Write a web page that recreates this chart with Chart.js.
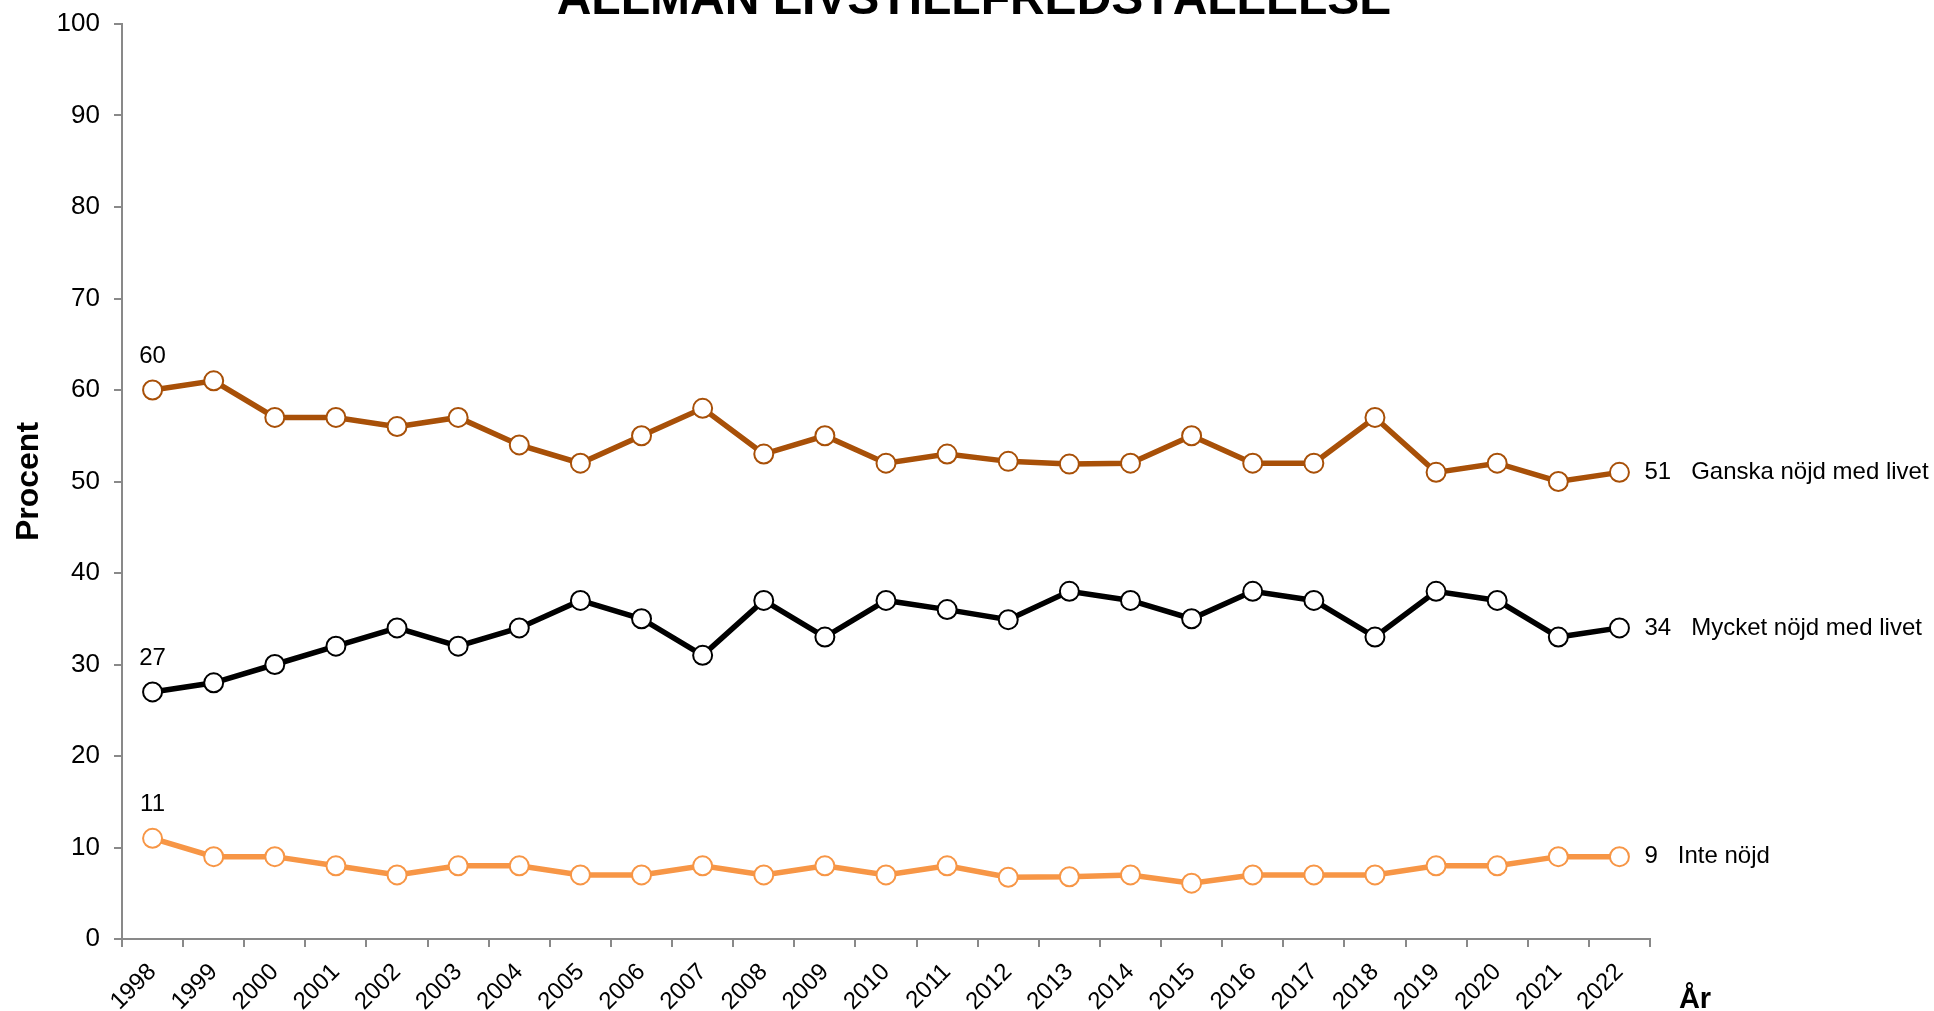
<!DOCTYPE html>
<html>
<head>
<meta charset="utf-8">
<script src="https://cdn.jsdelivr.net/npm/chart.js@4"></script>
<style>
    body { margin: 0; background: #fff; }
    #wrap { width: 1934px; height: 1011px; position: relative; }
</style>
</head>
<body>
<div id="wrap"><canvas id="livChart"></canvas></div>
<script>
const years = ['1998', '1999', '2000', '2001', '2002', '2003', '2004', '2005', '2006', '2007', '2008', '2009',
    '2010', '2011', '2012', '2013', '2014', '2015', '2016', '2017', '2018', '2019', '2020', '2021', '2022'];

const ganskaNojd = [60, 61, 57, 57, 56, 57, 54, 52, 55, 58, 53, 55, 52, 53, 52.2, 51.9, 52, 55, 52, 52, 57, 51, 52, 50, 51];
const mycketNojd = [27, 28, 30, 32, 34, 32, 34, 37, 35, 31, 37, 33, 37, 36, 34.9, 38, 37, 35, 38, 37, 33, 38, 37, 33, 34];
const inteNojd = [11, 9, 9, 8, 7, 8, 8, 7, 7, 8, 7, 8, 7, 8, 6.75, 6.8, 7, 6.1, 7, 7, 7, 8, 8, 9, 9];

const seriesNames = ['Ganska nöjd med livet', 'Mycket nöjd med livet', 'Inte nöjd'];
const seriesColors = ['#A85008', '#000000', '#F79646'];

const yMin = 0;
const yMax = 100;
const yStep = 10;

const titleText = 'ALLMÄN LIVSTILLFREDSTÄLLELSE';
const yTitle = 'Procent';
const xTitle = 'År';

Chart.defaults.font.family = "'Liberation Sans', Arial, sans-serif";
Chart.defaults.color = '#000';

// texts around the plot: title, axis titles, first and last values
const textPlugin = {
    id: 'texts',
    afterDraw(chart) {
        const c = chart.ctx;
        const area = chart.chartArea;
        c.save();
        c.fillStyle = '#000';

        c.font = "bold 48px 'Liberation Sans', Arial";
        c.textAlign = 'center';
        c.textBaseline = 'alphabetic';
        c.fillText(titleText, chart.width / 2 + 7, 14);

        c.save();
        c.font = "bold 32px 'Liberation Sans', Arial";
        c.translate(29, (area.top + area.bottom) / 2);
        c.rotate(-Math.PI / 2);
        c.textBaseline = 'middle';
        c.fillText(yTitle, 0, 0);
        c.restore();

        c.font = "bold 29px 'Liberation Sans', Arial";
        c.textAlign = 'center';
        c.fillText(xTitle, area.right + 45, 1008);

        chart.data.datasets.forEach((ds, i) => {
            const meta = chart.getDatasetMeta(i);
            const first = meta.data[0];
            const last = meta.data[meta.data.length - 1];
            c.font = "24px 'Liberation Sans', Arial";
            c.textAlign = 'center';
            c.textBaseline = 'alphabetic';
            c.fillText(String(Math.round(ds.data[0])), first.x, first.y - 27);
            c.textAlign = 'left';
            c.textBaseline = 'middle';
            c.fillText(Math.round(ds.data[ds.data.length - 1]) + '   ' + seriesNames[i], last.x + 25, last.y);
        });
        c.restore();
    }
};

function makeSet(values, i) {
    return {
        label: seriesNames[i],
        data: values,
        borderColor: seriesColors[i],
        borderWidth: 5.5,
        pointRadius: 9.5,
        pointBorderWidth: 2,
        pointBackgroundColor: '#fff',
        pointBorderColor: seriesColors[i],
        tension: 0
    };
}

const ctx = document.getElementById('livChart').getContext('2d');

const livChart = new Chart(ctx, {
    type: 'line',
    data: {
        labels: years,
        datasets: [makeSet(ganskaNojd, 0), makeSet(mycketNojd, 1), makeSet(inteNojd, 2)]
    },
    options: {
        responsive: true,
        maintainAspectRatio: false,
        animation: false,
        layout: {
            padding: { left: 0, right: 284, top: 24, bottom: 0 }
        },
        plugins: {
            legend: { display: false },
            tooltip: { enabled: false }
        },
        scales: {
            x: {
                offset: true,
                grid: {
                    offset: true,
                    drawOnChartArea: false,
                    drawTicks: true,
                    tickLength: 8,
                    color: '#898989',
                    lineWidth: 2
                },
                border: { color: '#898989', width: 2 },
                ticks: {
                    minRotation: 45,
                    maxRotation: 45,
                    autoSkip: false,
                    padding: 11,
                    font: { size: 24 }
                },
                afterFit(scale) { scale.height = 72; }
            },
            y: {
                min: yMin,
                max: yMax,
                grid: {
                    drawOnChartArea: false,
                    drawTicks: true,
                    tickLength: 8,
                    color: '#898989',
                    lineWidth: 2
                },
                border: { color: '#898989', width: 2 },
                ticks: {
                    stepSize: yStep,
                    padding: 14,
                    font: { size: 26 }
                },
                afterFit(scale) {
                    scale.width = 122;
                    scale.paddingTop = 0;
                    scale.paddingBottom = 0;
                }
            }
        }
    },
    plugins: [textPlugin]
});
</script>
</body>
</html>
